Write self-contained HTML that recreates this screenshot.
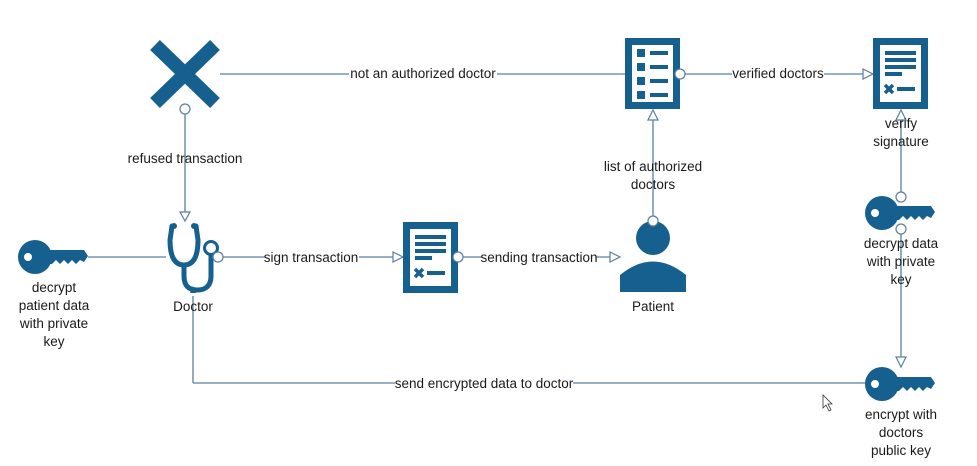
<!DOCTYPE html>
<html><head><style>html,body{margin:0;padding:0;background:#fff}svg{display:block}text{font-family:"Liberation Sans",sans-serif;font-size:13.5px;fill:#1a1a1a;text-anchor:middle}</style></head><body>
<svg width="977" height="466" viewBox="0 0 977 466">
<defs>
<g id="key"><circle cx="17" cy="17" r="17" fill="#16608f"/><circle cx="10" cy="17" r="4" fill="#fff"/><polygon points="26,10 66,10 70,16 66,22 62,20 58,24 54,20 50,24 46,20 42,24 38,20 34,24 26,24" fill="#16608f"/></g>
<g id="doc"><rect x="0" y="0" width="55" height="71" fill="#16608f"/><rect x="7" y="7" width="41" height="57" fill="#fff"/><rect x="12" y="13" width="31" height="4" fill="#16608f"/><rect x="12" y="20" width="31" height="4" fill="#16608f"/><rect x="12" y="27" width="31" height="4" fill="#16608f"/><rect x="12" y="34" width="17" height="4" fill="#16608f"/><path d="M12,47 L20,55 M20,47 L12,55" stroke="#16608f" stroke-width="3.5"/><rect x="24" y="49" width="18" height="4" fill="#16608f"/></g>
</defs>
<g stroke="#5a7fa0" stroke-width="1.3" fill="none">
<line x1="220" y1="74" x2="625" y2="74"/>
<line x1="685" y1="74" x2="863" y2="74"/>
<line x1="185" y1="114" x2="185" y2="212"/>
<line x1="88" y1="257" x2="166" y2="257"/>
<line x1="223" y1="257" x2="393" y2="257"/>
<line x1="463" y1="257" x2="610" y2="257"/>
<line x1="653" y1="216" x2="653" y2="120"/>
<line x1="901" y1="192" x2="901" y2="120"/>
<line x1="901" y1="234" x2="901" y2="357"/>
<polyline points="865,383 193,383"/>
<line x1="193" y1="383" x2="193" y2="296"/>
</g>
<g fill="#fff" stroke="#5a7fa0" stroke-width="1.2">
<polygon points="863,69 873,74 863,79"/>
<polygon points="180,212 190,212 185,221"/>
<polygon points="393,252 403,257 393,262"/>
<polygon points="610,252 620,257 610,262"/>
<polygon points="648,120 658,120 653,110"/>
<polygon points="896,120 906,120 901,110"/>
<polygon points="896,357 906,357 901,367"/>
</g>
<polygon points="190,293 196,293 193,286" fill="#16608f"/>
<path d="M155,45 L215,103 M215,45 L155,103" stroke="#16608f" stroke-width="14"/>
<g transform="translate(625,38)"><rect width="55" height="71" fill="#16608f"/><rect x="7" y="7" width="41" height="57" fill="#fff"/><rect x="12" y="11" width="8" height="8" fill="#16608f"/><rect x="25" y="13" width="18" height="4" fill="#16608f"/><rect x="12" y="25" width="8" height="8" fill="#16608f"/><rect x="25" y="27" width="18" height="4" fill="#16608f"/><rect x="12" y="39" width="8" height="8" fill="#16608f"/><rect x="25" y="41" width="18" height="4" fill="#16608f"/><rect x="12" y="53" width="8" height="8" fill="#16608f"/><rect x="25" y="55" width="18" height="4" fill="#16608f"/></g>
<use href="#doc" x="873" y="38"/>
<use href="#doc" x="403" y="222"/>
<use href="#key" x="865" y="196"/>
<use href="#key" x="865" y="367"/>
<use href="#key" x="18" y="240"/>
<circle cx="653" cy="238" r="17" fill="#16608f"/>
<path d="M620,292 L620,275 Q653,248 686,275 L686,292 Z" fill="#16608f"/>
<g fill="none" stroke="#16608f" stroke-width="5" stroke-linecap="round">
<path d="M172,226 L170,240 Q170,265 184,265 Q198,265 198,240 L196,226"/>
<path d="M184,265 L184,276 Q184,290 197,290 Q211,290 211,276 L211,256"/>
</g>
<circle cx="174" cy="226" r="3" fill="#16608f"/><circle cx="194" cy="226" r="3" fill="#16608f"/>
<circle cx="211" cy="248" r="6.5" fill="#fff" stroke="#16608f" stroke-width="3"/>
<g fill="#fff" stroke="#5a7fa0" stroke-width="1.2">
<circle cx="185" cy="109" r="5"/><circle cx="680" cy="74" r="5"/><circle cx="218" cy="257" r="5"/><circle cx="458" cy="257" r="5"/><circle cx="653" cy="221" r="5"/><circle cx="901" cy="197" r="5"/><circle cx="901" cy="229" r="5"/>
</g>
<g>
<rect x="349" y="66" width="148" height="15" fill="#fff"/><text x="423" y="78">not an authorized doctor</text>
<rect x="732" y="66" width="92" height="15" fill="#fff"/><text x="778" y="78">verified doctors</text>
<text x="185" y="163">refused transaction</text>
<rect x="265" y="249" width="94" height="15" fill="#fff"/><text x="311" y="262">sign transaction</text>
<rect x="482" y="249" width="114" height="15" fill="#fff"/><text x="539" y="262">sending transaction</text>
<text x="653" y="171">list of authorized</text><text x="653" y="189">doctors</text>
<text x="653" y="311">Patient</text>
<text x="193" y="311">Doctor</text>
<text x="901" y="128">verify</text><text x="901" y="146">signature</text>
<text x="901" y="248">decrypt data</text><text x="901" y="266">with private</text><text x="901" y="284">key</text>
<text x="901" y="419">encrypt with</text><text x="901" y="437">doctors</text><text x="901" y="455">public key</text>
<text x="54" y="292">decrypt</text><text x="54" y="310">patient data</text><text x="54" y="328">with private</text><text x="54" y="346">key</text>
<rect x="395" y="375" width="178" height="15" fill="#fff"/><text x="484" y="388">send encrypted data to doctor</text>
</g>
<path d="M823,395 L823,408 L826,405 L829,411 L831,410 L828,404 L832,404 Z" fill="#fff" stroke="#333" stroke-width="0.8"/>
</svg>
</body></html>
